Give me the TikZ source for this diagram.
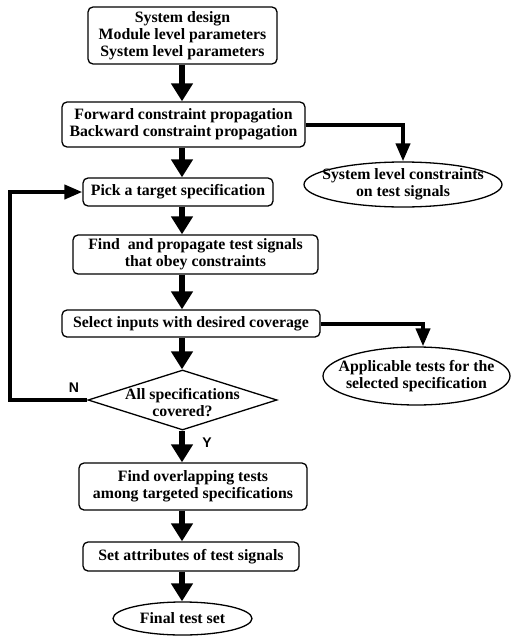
\documentclass[tikz,border=0pt]{standalone}
\usepackage{fontspec}
\setmainfont{Liberation Serif}
\newfontfamily\lblfont{Liberation Sans}
\usetikzlibrary{arrows.meta,shapes.geometric,calc}
\begin{document}
\begin{tikzpicture}[x=1pt,y=-1pt,
  txt/.style={font=\fontsize{15.8}{17}\selectfont\bfseries, align=center, inner sep=0pt},
  box/.style={txt, draw, line width=1.3pt, rounded corners=5pt},
  ell/.style={ellipse, draw, line width=1.3pt, inner sep=0pt},
  bigarrow/.style={line width=6pt, -{Triangle[width=21pt,length=18pt]}},
  sidearrow/.style={line width=4pt, -{Triangle[width=14pt,length=18pt]}},
  yn/.style={font=\lblfont\fontsize{14}{14}\selectfont\bfseries, inner sep=0pt}
]
\path[use as bounding box] (0,0) rectangle (521,637);
\coordinate (spine) at (182,0);
\coordinate (loopx) at (10,0);
\coordinate (e2x) at (423,0);

\node[box, minimum width=189pt, minimum height=57pt] (b1) at (182.5,35.5)
  {System design\\Module level parameters\\System level parameters};
\node[box, minimum width=243pt, minimum height=45pt] (b2) at (183.5,124.5)
  {Forward constraint propagation\\Backward constraint propagation};
\node[box, minimum width=190pt, minimum height=28pt] (b3) at (178,192)
  {Pick a target specification};
\node[box, minimum width=245pt, minimum height=39pt] (b4) at (195.5,254.5)
  {Find~ and propagate test signals\\that obey constraints};
\node[box, minimum width=258pt, minimum height=27pt] (b5) at (191,323.5)
  {Select inputs with desired coverage};
\node[diamond, draw, line width=1.3pt, minimum width=189pt, minimum height=60pt,
  inner sep=0pt, aspect=3.15] (dec) at (182.5,400) {};
\node[txt] (dect) at (182.5,403) {All specifications\\covered?};
\node[box, minimum width=228pt, minimum height=47pt] (b6) at (193,486.5)
  {Find overlapping tests\\among targeted specifications};
\node[box, minimum width=216pt, minimum height=29pt] (b7) at (191,556.5)
  {Set attributes of test signals};
\node[ell, minimum width=139pt, minimum height=33pt,
  label={[txt]center:Final test set}] (fin) at (182.5,618.5) {};
\node[ell, minimum width=198pt, minimum height=45pt,
  label={[txt]center:System level constraints\\on test signals}] (e1) at (403,184.5) {};
\node[ell, minimum width=187pt, minimum height=58pt,
  label={[txt]center:Applicable tests for the\\selected specification}] (e2) at (416.5,376) {};

\node[yn] (nlab) at (74,388) {N};
\node[yn] (ylab) at (207,443) {Y};

\draw[bigarrow] (b1.south -| spine) -- (b2.north -| spine);
\draw[bigarrow] (b2.south -| spine) -- (b3.north -| spine);
\draw[bigarrow] (b3.south -| spine) -- (b4.north -| spine);
\draw[bigarrow] (b4.south -| spine) -- (b5.north -| spine);
\draw[bigarrow] (b5.south -| spine) -- (dec.north -| spine);
\draw[bigarrow] (dec.south -| spine) -- (b6.north -| spine);
\draw[bigarrow] (b6.south -| spine) -- (b7.north -| spine);
\draw[bigarrow] (b7.south -| spine) -- (fin.north -| spine);

\draw[sidearrow] (b2.east) -| (e1.north);
\draw[sidearrow] (b5.east) -| (e2x |- e2.north);
\draw[sidearrow] (dec.west) -- (dec.west -| loopx) -- (loopx |- b3.west) -- (b3.west);
\end{tikzpicture}
\end{document}
